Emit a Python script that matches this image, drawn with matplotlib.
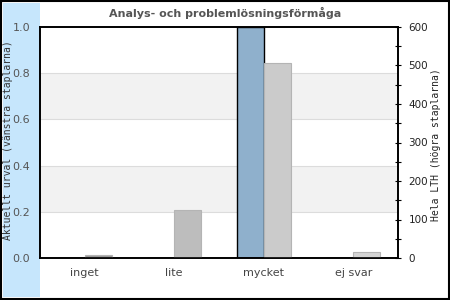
import matplotlib
matplotlib.use("Agg")
import matplotlib.pyplot as plt
from matplotlib.patches import Rectangle
import numpy as np

categories = ["inget", "lite", "mycket", "ej svar"]
urval_values = [0.0, 0.0, 1.0, 0.0]          # left axis (Aktuellt urval)
lth_values = [7, 125, 506, 15]                # right axis (Hela LTH)
lth_colors = ["#9a9a9a", "#bdbdbd", "#cbcbcb", "#d4d4d4"]
left_ticks = [0.0, 0.2, 0.4, 0.6, 0.8, 1.0]
right_ticks = [0, 100, 200, 300, 400, 500, 600]

title = "Analys- och problemlösningsförmåga"
left_label = "Aktuellt urval (vänstra staplarna)"
right_label = "Hela LTH (högra staplarna)"

W, H = 450, 300
fig = plt.figure(figsize=(W / 100, H / 100), dpi=100)
fig.patch.set_facecolor("white")

# light blue band and outer frame
fig.patches.append(Rectangle((3 / W, 3 / H), 37 / W, 294 / H, transform=fig.transFigure,
                             facecolor="#c6e6fc", edgecolor="none", zorder=-1))
fig.patches.append(Rectangle((1 / W, 1 / H), 448 / W, 298 / H, transform=fig.transFigure,
                             facecolor="none", edgecolor="black", linewidth=1.5, zorder=5))

left, right, top, bottom = 40 / W, 398 / W, 1 - 27 / H, 1 - 258 / H
ax = fig.add_axes([left, bottom, right - left, top - bottom])
ax.set_facecolor("white")
ax2 = ax.twinx()

x = np.arange(len(categories))
bw = 0.3

# bands
for i, (a, b) in enumerate(zip(left_ticks[:-1], left_ticks[1:])):
    if i % 2 == 1:
        ax.axhspan(a, b, color="#f2f2f2", zorder=0, lw=0)
for t in left_ticks[1:-1]:
    ax.axhline(t, color="#dcdcdc", lw=0.8, zorder=0.5)

ax.bar(x - bw / 2, urval_values, width=bw, color="#8fb0cc", edgecolor="black",
       linewidth=1.0, zorder=2)
ax2.bar(x + bw / 2, lth_values, width=bw, color=lth_colors, edgecolor="#b4b4b4",
        linewidth=0.8, zorder=2)

ax.set_xlim(-0.5, len(categories) - 0.5)
ax.set_ylim(0, 1.0)
ax2.set_ylim(0, 600)

ax.set_yticks(left_ticks)
ax.set_yticklabels([f"{t:.1f}" for t in left_ticks])
ax.tick_params(axis="y", length=0, pad=7, labelsize=8, labelcolor="#555555")
ax.set_xticks(x)
ax.set_xticklabels(categories)
ax.tick_params(axis="x", length=0, pad=7, labelsize=8, labelcolor="#444444")

ax2.set_yticks(right_ticks)
ax2.set_yticks(np.arange(50, 600, 100), minor=True)
ax2.tick_params(axis="y", which="both", direction="inout", length=5, width=0.8,
                pad=5, labelsize=7.5, labelcolor="#222222")

for a in (ax, ax2):
    for s in a.spines.values():
        s.set_linewidth(1.2)
        s.set_color("black")

fig.text(225 / W, 1 - 13 / H, title, ha="center", va="center", fontsize=8,
         fontweight="bold", color="#555555", family="DejaVu Sans")
fig.text(8 / W, 1 - 140 / H, left_label, rotation=90, ha="center", va="center",
         fontsize=7, family="DejaVu Sans Mono", color="#333333")
fig.text(436 / W, 1 - 145 / H, right_label, rotation=90, ha="center", va="center",
         fontsize=7, family="DejaVu Sans Mono", color="#222222")

fig.savefig("out.png", dpi=100)
